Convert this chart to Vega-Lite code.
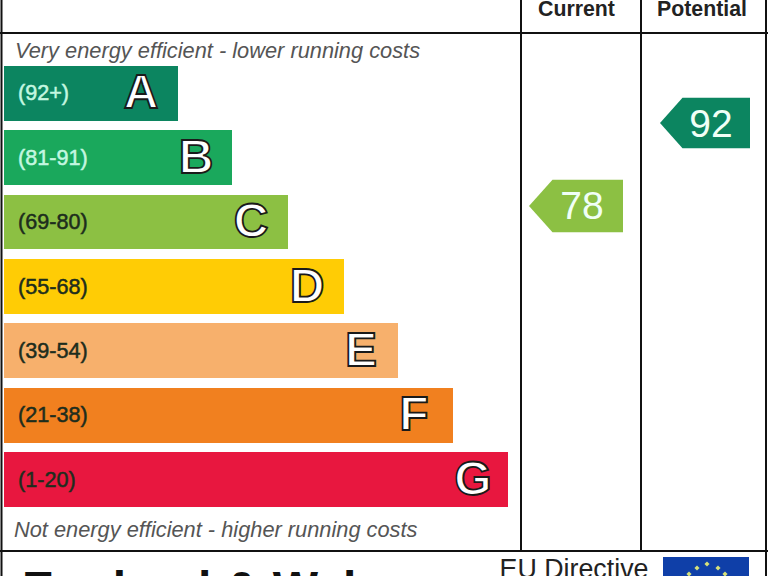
{"$schema":"https://vega.github.io/schema/vega-lite/v6.json","width":768,"height":576,"autosize":{"type":"none"},"padding":0,"background":"white","config":{"view":{"stroke":null},"text":{"font":"Liberation Sans"}},
"datasets":{"bands":[
{"band":"A","range":"(92+)","start":4,"end":178,"top":66,"bottom":121,"mid":94,"letterX":141},
{"band":"B","range":"(81-91)","start":4,"end":232,"top":130,"bottom":185,"mid":158.5,"letterX":196},
{"band":"C","range":"(69-80)","start":4,"end":288,"top":195,"bottom":249,"mid":223,"letterX":251},
{"band":"D","range":"(55-68)","start":4,"end":344,"top":259,"bottom":314,"mid":287.5,"letterX":307},
{"band":"E","range":"(39-54)","start":4,"end":398,"top":323,"bottom":378,"mid":352,"letterX":361},
{"band":"F","range":"(21-38)","start":4,"end":453,"top":388,"bottom":443,"mid":416,"letterX":414},
{"band":"G","range":"(1-20)","start":4,"end":508,"top":452,"bottom":507,"mid":480.5,"letterX":473}],
"pointers":[
{"kind":"Current","score":78,"band":"C","cx":576,"cy":206,"lx":582,"ly":207},
{"kind":"Potential","score":92,"band":"A","cx":705,"cy":123,"lx":711,"ly":125}],
"vlines":[{"x":1.5,"y":0,"y2":576},{"x":521,"y":0,"y2":551},{"x":641,"y":0,"y2":551},{"x":766,"y":0,"y2":576}],
"hlines":[{"x":0,"x2":768,"y":33},{"x":0,"x2":768,"y":551}],
"notes":[{"t":"Very energy efficient - lower running costs","x":15,"y":51},{"t":"Not energy efficient - higher running costs","x":14,"y":530}],
"heads":[{"t":"Current","x":576.5,"y":10},{"t":"Potential","x":702,"y":10}]},
"layer":[
{"data":{"name":"vlines"},"mark":{"type":"rule","color":"#111","strokeWidth":2},"encoding":{"x":{"field":"x","type":"quantitative","scale":{"domain":[0,768],"nice":false,"zero":false},"axis":null},"y":{"field":"y","type":"quantitative","scale":{"domain":[576,0],"nice":false,"zero":false},"axis":null},"y2":{"field":"y2"}}},
{"data":{"name":"hlines"},"mark":{"type":"rule","color":"#111","strokeWidth":2},"encoding":{"x":{"field":"x","type":"quantitative"},"x2":{"field":"x2"},"y":{"field":"y","type":"quantitative"}}},
{"data":{"name":"bands"},"mark":{"type":"rect"},"encoding":{"x":{"field":"start","type":"quantitative"},"x2":{"field":"end"},"y":{"field":"top","type":"quantitative"},"y2":{"field":"bottom"},"color":{"field":"band","type":"nominal","legend":null,"scale":{"domain":["A","B","C","D","E","F","G"],"range":["#0c8560","#1aa85c","#8cc043","#ffcc05","#f7b06c","#f1801f","#e8173f"]}}}},
{"data":{"name":"bands"},"mark":{"type":"text","align":"left","baseline":"middle","fontSize":21.6,"strokeWidth":0.5},"encoding":{"x":{"datum":18,"type":"quantitative"},"y":{"field":"mid","type":"quantitative"},"text":{"field":"range"},"fill":{"condition":{"test":"datum.band==='A'||datum.band==='B'","value":"#c4f7e0"},"value":"#1d2d1d"},"stroke":{"condition":{"test":"datum.band==='A'||datum.band==='B'","value":"#c4f7e0"},"value":"#1d2d1d"}}},
{"data":{"name":"bands"},"mark":{"type":"text","align":"center","baseline":"middle","fontSize":48,"fontWeight":"bold","fill":"white","stroke":"#1a1a1a","strokeWidth":1.8},"encoding":{"x":{"field":"letterX","type":"quantitative"},"y":{"field":"mid","type":"quantitative"},"text":{"field":"band"}}},
{"data":{"name":"notes"},"mark":{"type":"text","align":"left","baseline":"middle","fontSize":21.8,"fontStyle":"italic","color":"#555"},"encoding":{"x":{"field":"x","type":"quantitative"},"y":{"field":"y","type":"quantitative"},"text":{"field":"t"}}},
{"data":{"name":"heads"},"mark":{"type":"text","align":"center","baseline":"middle","fontSize":21.3,"fontWeight":"bold","color":"#222"},"encoding":{"x":{"field":"x","type":"quantitative"},"y":{"field":"y","type":"quantitative"},"text":{"field":"t"}}},
{"data":{"name":"pointers"},"transform":[{"filter":"datum.kind==='Current'"}],"mark":{"type":"point","filled":true,"opacity":1,"size":8836,"shape":"M-1,0L-0.5,-0.56L1,-0.56L1,0.56L-0.5,0.56Z"},"encoding":{"x":{"field":"cx","type":"quantitative"},"y":{"field":"cy","type":"quantitative"},"color":{"field":"band","type":"nominal","legend":null}}},
{"data":{"name":"pointers"},"transform":[{"filter":"datum.kind==='Potential'"}],"mark":{"type":"point","filled":true,"opacity":1,"size":8100,"shape":"M-1,0L-0.5,-0.56L1,-0.56L1,0.56L-0.5,0.56Z"},"encoding":{"x":{"field":"cx","type":"quantitative"},"y":{"field":"cy","type":"quantitative"},"color":{"field":"band","type":"nominal","legend":null}}},
{"data":{"name":"pointers"},"mark":{"type":"text","align":"center","baseline":"middle","fontSize":39,"color":"#f0fff6"},"encoding":{"x":{"field":"lx","type":"quantitative"},"y":{"field":"ly","type":"quantitative"},"text":{"field":"score","type":"quantitative"}}},
{"data":{"values":[{"t":"England & Wales","x":22,"y":591}]},"mark":{"type":"text","align":"left","baseline":"middle","fontSize":48,"fontWeight":"bold","color":"#111"},"encoding":{"x":{"field":"x","type":"quantitative"},"y":{"field":"y","type":"quantitative"},"text":{"field":"t"}}},
{"data":{"values":[{"t":"EU Directive","x":574,"y":570}]},"mark":{"type":"text","align":"center","baseline":"middle","fontSize":26.8,"color":"#222"},"encoding":{"x":{"field":"x","type":"quantitative"},"y":{"field":"y","type":"quantitative"},"text":{"field":"t"}}},
{"data":{"values":[{"x":663,"x2":749,"y":557,"y2":576}]},"mark":{"type":"rect","color":"#0f3fa8"},"encoding":{"x":{"field":"x","type":"quantitative"},"x2":{"field":"x2"},"y":{"field":"y","type":"quantitative"},"y2":{"field":"y2"}}},
{"data":{"values":[{"x":707,"y":564},{"x":697,"y":568},{"x":718,"y":568},{"x":689,"y":574},{"x":725,"y":574}]},"mark":{"type":"point","shape":"diamond","filled":true,"opacity":1,"size":26,"color":"#d8e27a"},"encoding":{"x":{"field":"x","type":"quantitative"},"y":{"field":"y","type":"quantitative"}}}
]}
